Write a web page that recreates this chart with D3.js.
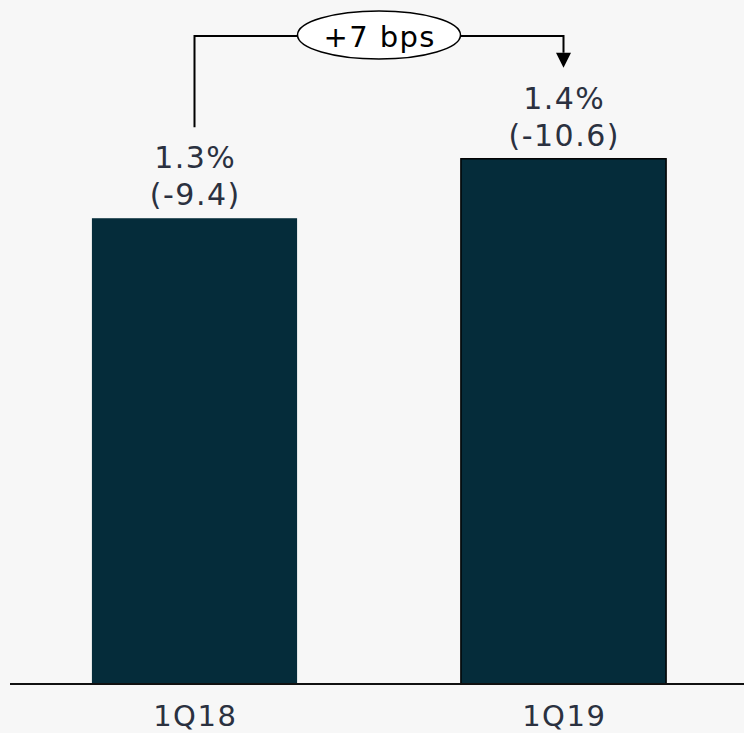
<!DOCTYPE html>
<html>
<head>
<meta charset="utf-8">
<script src="https://cdn.jsdelivr.net/npm/d3@7"></script>
<style>
  html, body { margin: 0; padding: 0; background: #f7f7f7; }
  svg { display: block; }
</style>
</head>
<body>
<svg id="chart" width="744" height="733"></svg>
<script>
const categories = ["1Q18", "1Q19"];
const values = [9.4, 10.6];
const pctLabels = ["1.3%", "1.4%"];
const valueLabels = ["(-9.4)", "(-10.6)"];
const changeLabel = "+7 bps";

const W = 744, H = 733;
const baseY = 684;
const font = "'DejaVu Sans', Verdana, sans-serif";
const textColor = "#2b3140";
const barColor = "#052c3a";

const svg = d3.select("#chart");
svg.append("rect").attr("width", W).attr("height", H).attr("fill", "#f7f7f7");

const x = d3.scaleBand().domain(categories).range([10, 748])
  .paddingInner(0.444).paddingOuter(0.222);
const y = d3.scaleLinear().domain([0, 12]).range([baseY, baseY - 12 * 49.55]);

// bars
svg.selectAll("rect.bar").data(categories).enter().append("rect")
  .attr("class", "bar")
  .attr("x", d => x(d))
  .attr("width", x.bandwidth())
  .attr("y", (d, i) => y(values[i]))
  .attr("height", (d, i) => y(0) - y(values[i]))
  .attr("fill", barColor)
  .attr("stroke", (d, i) => i === categories.length - 1 ? "#000" : "none")
  .attr("stroke-width", 1.5);

// baseline / axis
const axis = d3.axisBottom(x).tickSize(0).tickPadding(0);
const gAxis = svg.append("g").attr("transform", `translate(0,${baseY})`).call(axis);
gAxis.select(".domain").attr("d", `M10,0H744`).attr("stroke", "#111").attr("stroke-width", 2);
gAxis.selectAll(".tick text")
  .attr("y", 42).attr("dy", null).attr("dx", 0.75)
  .attr("font-family", font).attr("font-size", 29).attr("letter-spacing", 1.5)
  .attr("fill", textColor);

// value labels
categories.forEach((c, i) => {
  const cx = x(c) + x.bandwidth() / 2 + 0.75;
  const top = y(values[i]);
  svg.append("text").attr("x", cx).attr("y", top - 50)
    .attr("text-anchor", "middle").attr("font-family", font).attr("font-size", 30)
    .attr("letter-spacing", 1.5).attr("fill", textColor).text(pctLabels[i]);
  svg.append("text").attr("x", cx).attr("y", top - 13)
    .attr("text-anchor", "middle").attr("font-family", font).attr("font-size", 30)
    .attr("letter-spacing", 1.5).attr("fill", textColor).text(valueLabels[i]);
});

// change annotation
const x0 = x(categories[0]) + x.bandwidth() / 2;
const x1 = x(categories[1]) + x.bandwidth() / 2;
const lineY = 36;
const startY = y(values[0]) - 91;
const tipY = y(values[1]) - 91;
const headLen = 15, headW = 7.5;

svg.append("path")
  .attr("d", `M${x0},${startY}V${lineY}H${x1}V${tipY - headLen}`)
  .attr("fill", "none").attr("stroke", "#000").attr("stroke-width", 2);
svg.append("path")
  .attr("d", `M${x1 - headW},${tipY - headLen}L${x1 + headW},${tipY - headLen}L${x1},${tipY}Z`)
  .attr("fill", "#000");

const ecx = (x0 + x1) / 2;
svg.append("ellipse").attr("cx", ecx).attr("cy", 35).attr("rx", 81.5).attr("ry", 24)
  .attr("fill", "#fff").attr("stroke", "#000").attr("stroke-width", 1.5);
svg.append("text").attr("x", ecx + 0.7).attr("y", 46.5)
  .attr("text-anchor", "middle").attr("font-family", font).attr("font-size", 29)
  .attr("letter-spacing", 1.4).attr("fill", "#000").text(changeLabel);
</script>
</body>
</html>
